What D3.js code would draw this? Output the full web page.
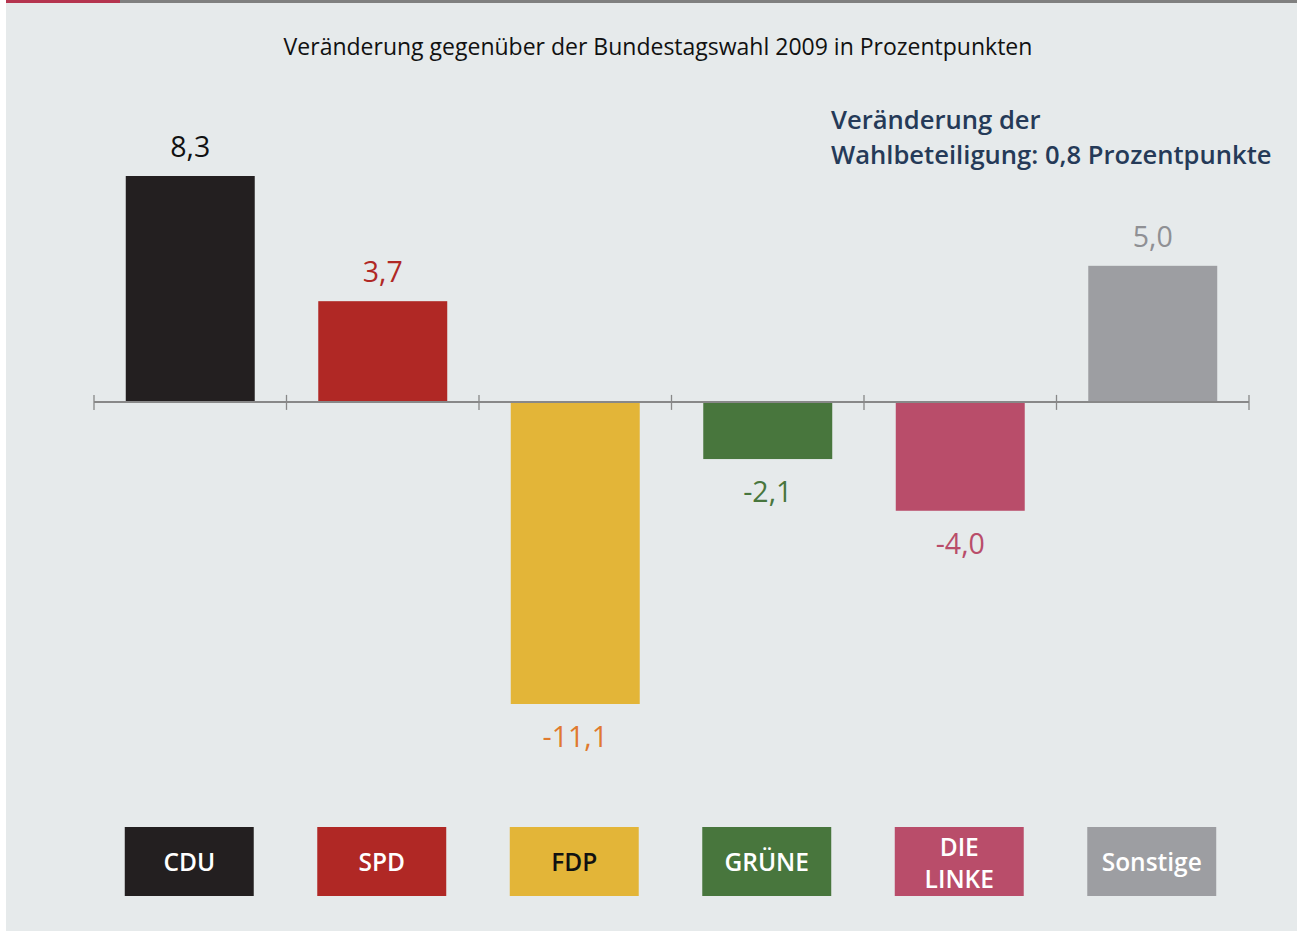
<!DOCTYPE html>
<html><head><meta charset="utf-8">
<script src="https://cdn.jsdelivr.net/npm/d3@7"></script>
<style>html,body{margin:0;padding:0;background:#fff;}svg{display:block;}</style>
</head><body>
<svg id="chart" width="1297" height="931"></svg>
<script>
const parties = ["CDU", "SPD", "FDP", "GRÜNE", "DIE LINKE", "Sonstige"];
const changes = [8.3, 3.7, -11.1, -2.1, -4.0, 5.0];
const barColors = ["#231f20", "#b02825", "#e3b538", "#48763d", "#b94d6a", "#9d9ea2"];
const labelColors = ["#111111", "#b02825", "#e07a2e", "#48763d", "#b94d6a", "#8f9094"];
const legendTextColors = ["#ffffff", "#ffffff", "#111111", "#ffffff", "#ffffff", "#ffffff"];
const title = "Veränderung gegenüber der Bundestagswahl 2009 in Prozentpunkten";
const noteLines = ["Veränderung der", "Wahlbeteiligung: 0,8 Prozentpunkte"];

const svg = d3.select("#chart");
const font = "'Open Sans', 'Noto Sans', sans-serif";

// panel
svg.append("rect").attr("x", 6).attr("y", 0).attr("width", 1291).attr("height", 931).attr("fill", "#e6eaeb");
svg.append("rect").attr("x", 6).attr("y", 0).attr("width", 114).attr("height", 3).attr("fill", "#b5344f");
svg.append("rect").attr("x", 120).attr("y", 0).attr("width", 1177).attr("height", 3).attr("fill", "#808080");

const x = d3.scaleBand().domain(parties).range([94, 1249]).paddingInner(0.33).paddingOuter(0.165);
const y = d3.scaleLinear().domain([-11.1, 8.3]).range([704, 176]);

svg.append("text").attr("x", 658).attr("y", 55).attr("text-anchor", "middle")
  .attr("font-family", font).attr("font-size", 23).attr("fill", "#111").text(title);

const note = svg.append("text").attr("font-family", font).attr("font-size", 25.6).attr("font-weight", 600).attr("fill", "#253a58");
noteLines.forEach((l, i) => note.append("tspan").attr("x", 831).attr("y", 129 + i * 35).text(l));

// bars
svg.selectAll("rect.bar").data(parties).join("rect").attr("class", "bar")
  .attr("x", d => x(d)).attr("width", x.bandwidth())
  .attr("y", (d, i) => Math.min(y(changes[i]), y(0)))
  .attr("height", (d, i) => Math.abs(y(changes[i]) - y(0)))
  .attr("fill", (d, i) => barColors[i]);

// axis
const step = x.step();
const tickPos = d3.range(parties.length + 1).map(i => 94 + i * step);
const ax = svg.append("g");
ax.append("line").attr("x1", 94).attr("x2", 1249).attr("y1", y(0)).attr("y2", y(0))
  .attr("stroke", "#888").attr("stroke-width", 2);
ax.selectAll("line.t").data(tickPos).join("line").attr("class", "t")
  .attr("x1", d => d).attr("x2", d => d).attr("y1", y(0) - 7).attr("y2", y(0) + 8)
  .attr("stroke", "#888").attr("stroke-width", 1.3);

// value labels
const fmt = v => d3.format(".1f")(v).replace(".", ",").replace("−", "-");
svg.selectAll("text.val").data(parties).join("text").attr("class", "val")
  .attr("x", d => x(d) + x.bandwidth() / 2)
  .attr("y", (d, i) => changes[i] >= 0 ? y(changes[i]) - 19 : y(changes[i]) + 43)
  .attr("text-anchor", "middle").attr("font-family", font).attr("font-size", 28.5)
  .attr("fill", (d, i) => labelColors[i]).text((d, i) => fmt(changes[i]));

// legend boxes
const lg = svg.selectAll("g.lg").data(parties).join("g").attr("class", "lg");
lg.append("rect").attr("x", d => x(d) - 1).attr("width", x.bandwidth()).attr("y", 827).attr("height", 69)
  .attr("fill", (d, i) => barColors[i]);
lg.each(function(d, i) {
  const words = d === "DIE LINKE" ? ["DIE", "LINKE"] : [d];
  const t = d3.select(this).append("text").attr("text-anchor", "middle").attr("font-family", font)
    .attr("font-size", 24.5).attr("font-weight", 600).attr("fill", legendTextColors[i]);
  words.forEach((w, j) => t.append("tspan").attr("x", x(d) - 1 + x.bandwidth() / 2)
    .attr("y", words.length === 1 ? 871 : 856 + j * 32).text(w));
});
</script>
</body></html>
